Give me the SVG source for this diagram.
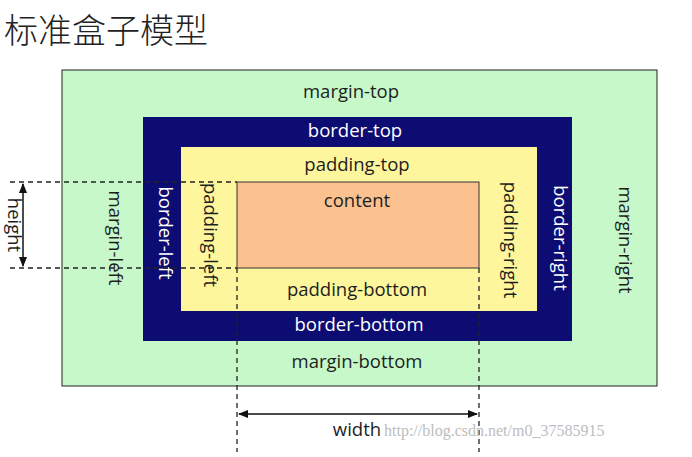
<svg xmlns="http://www.w3.org/2000/svg" width="692" height="457" viewBox="0 0 692 457">
<style>
.t{font-family:"Open Sans","Liberation Sans",sans-serif;font-size:18.5px;fill:#1e1e1e;text-anchor:middle}
.w{fill:#ffffff}
.dash{stroke:#222;stroke-width:1.3;stroke-dasharray:5,4;fill:none}
.arr{stroke:#111;stroke-width:1.5;fill:none}
</style>
<defs>
<marker id="ah" viewBox="0 0 10 10" refX="9" refY="5" markerWidth="7" markerHeight="7" orient="auto-start-reverse">
<path d="M0,1 L10,5 L0,9 z" fill="#111"/>
</marker>
</defs>
<rect width="692" height="457" fill="#ffffff"/>
<text x="4" y="43" font-family="Noto Sans CJK SC, sans-serif" font-size="34" font-weight="300" fill="#222">标准盒子模型</text>
<g id="margin">
<rect x="62" y="70" width="595" height="316" fill="#c6f8ca" stroke="#222" stroke-width="1"/>
<text class="t" x="351" y="98">margin-top</text>
<text class="t" x="357" y="368">margin-bottom</text>
<text class="t" transform="translate(109,238) rotate(90)">margin-left</text>
<text class="t" transform="translate(619,240) rotate(90)">margin-right</text>
</g>
<g id="border">
<rect x="143" y="117" width="429" height="224" fill="#0c0c72"/>
<text class="t w" x="355" y="137">border-top</text>
<text class="t w" x="359" y="331">border-bottom</text>
<text class="t w" transform="translate(159,233) rotate(90)">border-left</text>
<text class="t w" transform="translate(554,238) rotate(90)">border-right</text>
</g>
<g id="padding">
<rect x="181" y="147" width="356" height="164" fill="#fdf69c"/>
<text class="t" x="357" y="171">padding-top</text>
<text class="t" x="357" y="296">padding-bottom</text>
<text class="t" transform="translate(204,235) rotate(90)">padding-left</text>
<text class="t" transform="translate(504,240) rotate(90)">padding-right</text>
</g>
<g id="content">
<rect x="237" y="182" width="242" height="86" fill="#fbc18f" stroke="#333" stroke-width="1"/>
<text class="t" x="357" y="207">content</text>
</g>
<g id="connectors">
<line class="dash" x1="10" y1="182" x2="237" y2="182"/>
<line class="dash" x1="10" y1="268" x2="237" y2="268"/>
<line class="dash" x1="237" y1="268" x2="237" y2="452"/>
<line class="dash" x1="479" y1="268" x2="479" y2="452"/>
<line class="arr" x1="23" y1="184" x2="23" y2="266" marker-start="url(#ah)" marker-end="url(#ah)"/>
<line class="arr" x1="239" y1="414" x2="477" y2="414" marker-start="url(#ah)" marker-end="url(#ah)"/>
</g>
<g id="labels">
<text class="t" transform="translate(8,225) rotate(90)">height</text>
<text class="t" x="357" y="436">width</text>
<text x="384" y="436" font-family="Liberation Serif, serif" font-size="16" fill="#bdbdbd">http://blog.csdn.net/m0_37585915</text>
</g>
</svg>
